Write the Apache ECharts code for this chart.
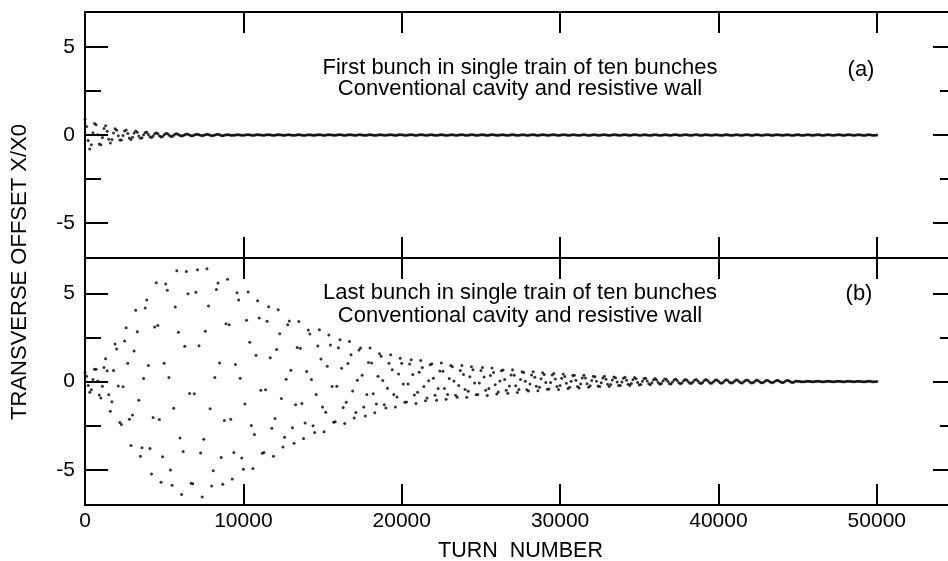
<!DOCTYPE html>
<html>
<head>
<meta charset="utf-8">
<script src="https://cdn.jsdelivr.net/npm/echarts@6/dist/echarts.min.js"></script>
<style>
  html, body { margin: 0; padding: 0; background: #fff; }
  #chart { width: 948px; height: 561px; }
</style>
</head>
<body>
<div id="chart"></div>
<script>
// one sample every 100 turns, turn 0 .. 50000
const turnStep = 100;

// panel (a): first bunch, offsets X/X0
const firstBunch = [
  0.9,0.49,-0.32,-0.79,-0.56,0.13,0.66,0.59,0.02,-0.51,
  -0.56,-0.14,0.37,0.52,0.22,-0.24,-0.45,-0.26,0.12,0.36,
  0.27,-0.04,-0.29,-0.28,-0.03,0.23,0.28,0.09,-0.17,-0.26,
  -0.13,0.11,0.23,0.15,-0.05,-0.19,-0.15,0.01,0.14,0.15,
  0.03,-0.1,-0.14,-0.05,0.07,
  0.13,0.07,-0.04,-0.11,-0.08,0.02,0.09,0.08,0,-0.07,
  -0.08,-0.02,0.05,0.07,0.03,-0.03,-0.06,-0.03,0.02,0.05,
  0.04,0,-0.04,-0.04,0,0.03,0.04,0.01,-0.02,-0.04,
  -0.02,0.02,0.04,0.03,-0.01,-0.04,-0.03,0,0.03,0.04,
  0.01,-0.03,-0.04,-0.02,0.02,
  0.02,0.01,-0.01,-0.02,-0.01,0,0.02,0.02,0,-0.02,-0.02,0,0.01,0.02,0.01,-0.01,-0.02,-0.01,0.01,0.02,0.02,0,-0.02,-0.02,0,0.02,0.02,0.01,-0.01,-0.02,-0.01,0.01,0.02,0.01,0,-0.02,-0.02,0,0.02,0.02,0,-0.01,-0.02,-0.01,0.01,
  0.02,0.01,-0.01,-0.02,-0.01,0,0.02,0.02,0,-0.02,-0.02,0,0.01,0.02,0.01,-0.01,-0.02,-0.01,0.01,0.02,0.02,0,-0.02,-0.02,0,0.02,0.02,0.01,-0.01,-0.02,-0.01,0.01,0.02,0.01,0,-0.02,-0.02,0,0.02,0.02,0,-0.01,-0.02,-0.01,0.01,
  0.02,0.01,-0.01,-0.02,-0.01,0,0.02,0.02,0,-0.02,-0.02,0,0.01,0.02,0.01,-0.01,-0.02,-0.01,0.01,0.02,0.02,0,-0.02,-0.02,0,0.02,0.02,0.01,-0.01,-0.02,-0.01,0.01,0.02,0.01,0,-0.02,-0.02,0,0.02,0.02,0,-0.01,-0.02,-0.01,0.01,
  0.02,0.01,-0.01,-0.02,-0.01,0,0.02,0.02,0,-0.02,-0.02,0,0.01,0.02,0.01,-0.01,-0.02,-0.01,0.01,0.02,0.02,0,-0.02,-0.02,0,0.02,0.02,0.01,-0.01,-0.02,-0.01,0.01,0.02,0.01,0,-0.02,-0.02,0,0.02,0.02,0,-0.01,-0.02,-0.01,0.01,
  0.02,0.01,-0.01,-0.02,-0.01,0,0.02,0.02,0,-0.02,-0.02,0,0.01,0.02,0.01,-0.01,-0.02,-0.01,0.01,0.02,0.02,0,-0.02,-0.02,0,0.02,0.02,0.01,-0.01,-0.02,-0.01,0.01,0.02,0.01,0,-0.02,-0.02,0,0.02,0.02,0,-0.01,-0.02,-0.01,0.01,
  0.02,0.01,-0.01,-0.02,-0.01,0,0.02,0.02,0,-0.02,-0.02,0,0.01,0.02,0.01,-0.01,-0.02,-0.01,0.01,0.02,0.02,0,-0.02,-0.02,0,0.02,0.02,0.01,-0.01,-0.02,-0.01,0.01,0.02,0.01,0,-0.02,-0.02,0,0.02,0.02,0,-0.01,-0.02,-0.01,0.01,
  0.02,0.01,-0.01,-0.02,-0.01,0,0.02,0.02,0,-0.02,-0.02,0,0.01,0.02,0.01,-0.01,-0.02,-0.01,0.01,0.02,0.02,0,-0.02,-0.02,0,0.02,0.02,0.01,-0.01,-0.02,-0.01,0.01,0.02,0.01,0,-0.02,-0.02,0,0.02,0.02,0,-0.01,-0.02,-0.01,0.01,
  0.02,0.01,-0.01,-0.02,-0.01,0,0.02,0.02,0,-0.02,-0.02,0,0.01,0.02,0.01,-0.01,-0.02,-0.01,0.01,0.02,0.02,0,-0.02,-0.02,0,0.02,0.02,0.01,-0.01,-0.02,-0.01,0.01,0.02,0.01,0,-0.02,-0.02,0,0.02,0.02,0,-0.01,-0.02,-0.01,0.01,
  0.02,0.01,-0.01,-0.02,-0.01,0,0.02,0.02,0,-0.02,-0.02,0,0.01,0.02,0.01,-0.01,-0.02,-0.01,0.01,0.02,0.02,0,-0.02,-0.02,0,0.02,0.02,0.01,-0.01,-0.02,-0.01,0.01,0.02,0.01,0,-0.02,-0.02,0,0.02,0.02,0,-0.01,-0.02,-0.01,0.01,
  0.02,0.01,-0.01,-0.02,-0.01,0
];

// panel (b): last bunch
const lastBunch = [
  0.5,0.3,-0.22,-0.61,-0.47,0.12,0.69,0.7,0.03,-0.76,
  -0.94,-0.27,0.8,1.29,0.61,-0.75,-1.68,-1.15,0.63,2.13,
  1.84,-0.26,-2.33,-2.44,-0.3,2.3,3.04,1.03,-2.14,-3.63,
  -1.9,1.73,4.04,2.82,-1.06,-4.23,-3.75,0.17,4.17,4.62,
  0.9,-3.8,-5.24,-2.04,3.09,
  5.6,3.18,-2.16,-5.71,-4.26,1.04,5.53,5.17,0.22,-5.02,
  -5.88,-1.52,4.22,6.28,2.79,-3.2,-6.41,-3.97,2.0,6.23,
  4.98,-0.68,-5.77,-5.79,-0.69,5.06,6.33,2.03,-4.05,-6.55,
  -3.28,2.85,6.39,4.28,-1.54,-5.92,-5.06,0.22,5.22,5.58,
  1.05,-4.31,-5.82,-2.21,3.27,
  5.8,3.21,-2.14,-5.53,-4.03,0.97,5.03,4.62,0.19,-4.33,
  -4.98,-1.27,3.47,5.07,2.22,-2.5,-4.93,-3.01,1.49,4.57,
  3.6,-0.49,-4.06,-4.02,-0.47,3.41,4.23,1.34,-2.65,-4.24,
  -2.1,1.82,4.06,2.71,-0.97,-3.71,-3.16,0.13,3.22,3.43,
  0.64,-2.62,-3.5,-1.32,1.93,
  3.4,1.88,-1.25,-3.23,-2.35,0.56,2.92,2.69,0.11,-2.51,
  -2.89,-0.73,2.01,2.94,1.28,-1.45,-2.85,-1.74,0.86,2.63,
  2.07,-0.28,-2.31,-2.28,-0.27,1.92,2.37,0.75,-1.48,-2.38,
  -1.18,1.02,2.27,1.51,-0.54,-2.07,-1.76,0.07,1.79,1.9,
  0.36,-1.45,-1.95,-0.74,1.08,
  1.9,1.05,-0.69,-1.77,-1.28,0.3,1.57,1.43,0.06,-1.32,
  -1.5,-0.38,1.04,1.51,0.66,-0.74,-1.45,-0.88,0.43,1.32,
  1.03,-0.14,-1.17,-1.16,-0.14,0.99,1.23,0.39,-0.77,-1.24,
  -0.61,0.53,1.19,0.8,-0.28,-1.09,-0.93,0.04,0.95,1.01,
  0.19,-0.78,-1.06,-0.4,0.59,
  1.05,0.58,-0.39,-1.0,-0.73,0.17,0.9,0.83,0.03,-0.78,
  -0.89,-0.23,0.62,0.91,0.4,-0.45,-0.89,-0.55,0.27,0.84,
  0.66,-0.09,-0.75,-0.74,-0.09,0.63,0.79,0.25,-0.49,-0.79,
  -0.39,0.34,0.76,0.51,-0.18,-0.71,-0.6,0.03,0.61,0.65,
  0.12,-0.5,-0.67,-0.25,0.37,
  0.66,0.36,-0.24,-0.62,-0.45,0.11,0.55,0.51,0.02,-0.47,
  -0.54,-0.14,0.37,0.55,0.24,-0.27,-0.53,-0.33,0.16,0.5,
  0.39,-0.05,-0.44,-0.43,-0.05,0.37,0.46,0.14,-0.28,-0.46,
  -0.23,0.19,0.43,0.29,-0.1,-0.39,-0.33,0.01,0.34,0.36,
  0.07,-0.28,-0.37,-0.14,0.2,
  0.36,0.2,-0.13,-0.33,-0.24,0.06,0.3,0.27,0.01,-0.25,
  -0.29,-0.07,0.2,0.3,0.13,-0.15,-0.29,-0.17,0.09,0.26,
  0.21,-0.03,-0.23,-0.23,-0.03,0.19,0.24,0.07,-0.15,-0.23,
  -0.12,0.1,0.22,0.15,-0.05,-0.2,-0.17,0.01,0.17,0.18,
  0.03,-0.13,-0.18,-0.07,0.1,
  0.17,0.09,-0.06,-0.16,-0.12,0.03,0.14,0.13,0.01,-0.12,
  -0.14,-0.03,0.09,0.14,0.06,-0.07,-0.13,-0.08,0.04,0.12,
  0.09,-0.01,-0.1,-0.1,-0.01,0.09,0.11,0.03,-0.07,-0.11,
  -0.06,0.05,0.11,0.07,-0.03,-0.1,-0.08,0,0.09,0.09,
  0.02,-0.07,-0.1,-0.04,0.05,
  0.1,0.05,-0.04,-0.09,-0.07,0.02,0.08,0.08,0,-0.07,
  -0.08,-0.02,0.06,0.08,0.04,-0.04,-0.08,-0.05,0.02,0.08,
  0.06,-0.01,-0.07,-0.07,-0.01,0.06,0.07,0.02,-0.04,-0.07,
  -0.03,0.03,0.07,0.04,-0.02,-0.06,-0.05,0,0.05,0.06,
  0.01,-0.04,-0.06,-0.02,0.03,
  0.02,0.01,-0.01,-0.02,-0.01,0,0.02,0.02,0,-0.02,-0.02,0,0.01,0.02,0.01,-0.01,-0.02,-0.01,0.01,0.02,0.02,0,-0.02,-0.02,0,0.02,0.02,0.01,-0.01,-0.02,-0.01,0.01,0.02,0.01,0,-0.02,-0.02,0,0.02,0.02,0,-0.01,-0.02,-0.01,0.01,
  0.02,0.01,-0.01,-0.02,-0.01,0
];

const xTicks = [10000, 20000, 30000, 40000, 50000];
const xLabels = [0, 10000, 20000, 30000, 40000, 50000];
const yMajor = [-5, 0, 5];
const yMinor = [-2.5, 2.5];

const font = '"Liberation Sans", Arial, Helvetica, sans-serif';
const ink = '#000';

const chart = echarts.init(document.getElementById('chart'));

const toPoints = (arr) => arr.map((v, i) => [i * turnStep, v]);

// x axes: bottom + top for each panel
const makeX = (grid, pos, labels) => ({
  type: 'value',
  gridIndex: grid,
  position: pos,
  min: 0,
  max: 55000,
  axisLine: { show: true, onZero: false, lineStyle: { color: ink, width: 2 } },
  axisTick: { show: true, inside: true, length: 21, customValues: xTicks, lineStyle: { color: ink, width: 2 } },
  axisLabel: labels
    ? { show: true, customValues: xLabels, formatter: (v) => String(v), color: ink, fontSize: 21, fontFamily: font, margin: 6 }
    : { show: false },
  splitLine: { show: false }
});

// y axes: major and minor tick layers on both sides
const makeY = (grid, pos, minor, labels) => ({
  type: 'value',
  gridIndex: grid,
  position: pos,
  min: -7,
  max: 7,
  axisLine: { show: !minor, onZero: false, lineStyle: { color: ink, width: 2 } },
  axisTick: {
    show: true, inside: true,
    length: minor ? 16 : 23,
    customValues: minor ? yMinor : yMajor,
    lineStyle: { color: ink, width: 2 }
  },
  axisLabel: labels
    ? { show: true, customValues: yMajor, color: ink, fontSize: 21, fontFamily: font, margin: 10 }
    : { show: false },
  splitLine: { show: false }
});

const xAxis = [
  makeX(0, 'bottom', false),
  makeX(0, 'top', false),
  Object.assign(makeX(1, 'bottom', true), {
    name: 'TURN  NUMBER',
    nameLocation: 'middle',
    nameGap: 35,
    nameTextStyle: { color: ink, fontSize: 21.5, fontFamily: font }
  }),
  makeX(1, 'top', false)
];

const yAxis = [
  makeY(0, 'left', false, true),
  makeY(0, 'left', true, false),
  makeY(0, 'right', false, false),
  makeY(0, 'right', true, false),
  makeY(1, 'left', false, true),
  makeY(1, 'left', true, false),
  makeY(1, 'right', false, false),
  makeY(1, 'right', true, false)
];

const dotStyle = {
  type: 'scatter',
  symbol: 'circle',
  symbolSize: 3,
  itemStyle: { color: '#000' },
  silent: true
};

const text = (str, x, y, size) => ({
  type: 'text',
  x: x,
  y: y,
  style: {
    text: str,
    fill: ink,
    font: size + 'px ' + font,
    textAlign: 'center',
    textVerticalAlign: 'middle'
  }
});

const option = {
  backgroundColor: '#fff',
  animation: false,
  grid: [
    { left: 85, top: 12, width: 871, height: 246, outerBoundsMode: 'none' },
    { left: 85, top: 258, width: 871, height: 247, outerBoundsMode: 'none' }
  ],
  xAxis: xAxis,
  yAxis: yAxis,
  series: [
    Object.assign({ name: 'first', xAxisIndex: 0, yAxisIndex: 0, data: toPoints(firstBunch) }, dotStyle),
    Object.assign({ name: 'last', xAxisIndex: 2, yAxisIndex: 4, data: toPoints(lastBunch) }, dotStyle)
  ],
  graphic: [
    text('First bunch in single train of ten bunches', 520, 68, 22),
    text('Conventional cavity and resistive wall', 520, 89, 22),
    text('(a)', 861, 70, 22),
    text('Last bunch in single train of ten bunches', 520, 293, 22),
    text('Conventional cavity and resistive wall', 520, 316, 22),
    text('(b)', 859, 294, 22),
    Object.assign(text('TRANSVERSE OFFSET X/X0', 20, 272, 22), { rotation: Math.PI / 2 })
  ]
};

chart.setOption(option);
</script>
</body>
</html>
